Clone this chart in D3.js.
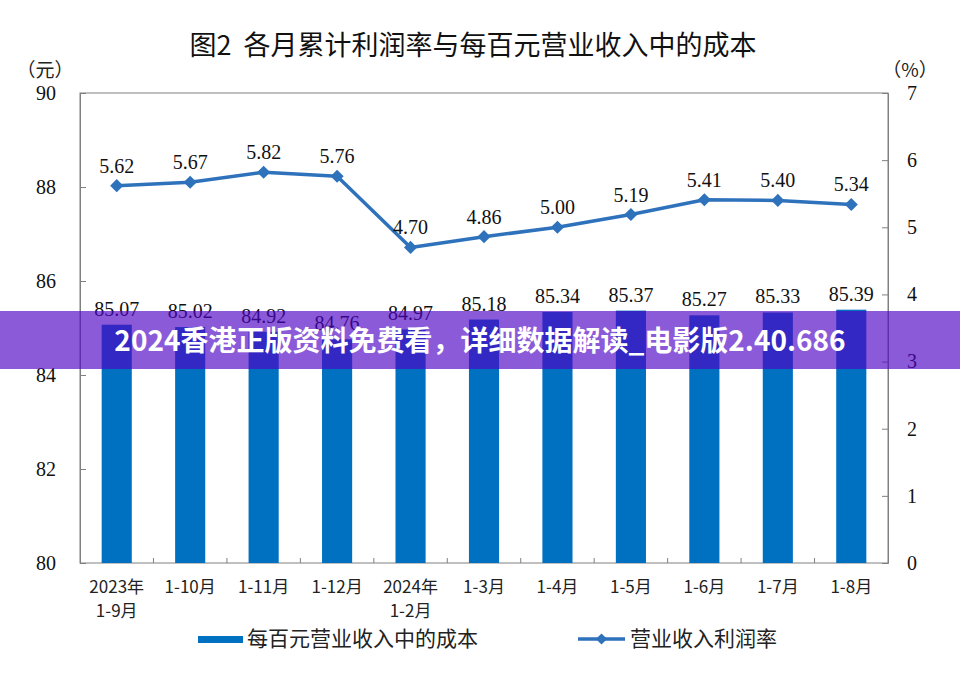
<!DOCTYPE html>
<html><head><meta charset="utf-8">
<script src="https://cdn.jsdelivr.net/npm/d3@7/dist/d3.min.js"></script>
<style>
body{margin:0;background:#fff;}
svg{display:block;}
</style></head>
<body>
<svg id="chart" width="960" height="680"></svg>
<script>
const categories = [["2023年","1-9月"],["1-10月"],["1-11月"],["1-12月"],["2024年","1-2月"],["1-3月"],["1-4月"],["1-5月"],["1-6月"],["1-7月"],["1-8月"]];
const costValues = [85.07,85.02,84.92,84.76,84.97,85.18,85.34,85.37,85.27,85.33,85.39];
const profitRate = [5.62,5.67,5.82,5.76,4.70,4.86,5.00,5.19,5.41,5.40,5.34];
const leftTicks = [80,82,84,86,88,90];
const rightTicks = [0,1,2,3,4,5,6,7];
const title = "图2  各月累计利润率与每百元营业收入中的成本";
const seriesNames = ["每百元营业收入中的成本","营业收入利润率"];
const bannerText = "2024香港正版资料免费看，详细数据解读_电影版2.40.686";

const svg = d3.select("#chart");
const M = {left:80, right:888, top:93, bottom:563};
const serif = "'Liberation Serif','Times New Roman',serif";
const cjk = "'Noto Sans CJK SC','Noto Sans',sans-serif";
const axisColor = "#808080";
const barColor = "#0070C0";
const lineColor = "#2E72BC";

const x = d3.scaleBand().domain(d3.range(categories.length)).range([M.left, M.right]).padding(0);
const yL = d3.scaleLinear().domain([80,90]).range([M.bottom, M.top]);
const yR = d3.scaleLinear().domain([0,7]).range([M.bottom, M.top]);
const barW = x.bandwidth()*0.41;

// title
svg.append("text").attr("x",473).attr("y",55).attr("text-anchor","middle")
  .attr("font-family",cjk).attr("font-size",27).attr("fill","#111").attr("xml:space","preserve").text(title);
svg.append("text").attr("x",45).attr("y",77).attr("text-anchor","middle")
  .attr("font-family",cjk).attr("font-size",19).attr("fill","#222").text("（元）");
svg.append("text").attr("x",910).attr("y",77).attr("text-anchor","middle")
  .attr("font-family",cjk).attr("font-size",19).attr("fill","#222").text("（%）");

// frame
svg.append("rect").attr("x",M.left).attr("y",M.top).attr("width",M.right-M.left).attr("height",M.bottom-M.top)
  .attr("fill","none").attr("stroke",axisColor).attr("stroke-width",1);

// bars
svg.append("g").selectAll("rect").data(costValues).join("rect")
  .attr("x",(d,i)=>x(i)+x.bandwidth()/2-barW/2)
  .attr("y",d=>yL(d)).attr("width",barW).attr("height",d=>yL(80)-yL(d))
  .attr("fill",barColor);

// axes
const gL = svg.append("g").attr("transform",`translate(${M.left},0)`)
  .call(d3.axisLeft(yL).tickValues(leftTicks).tickSize(-6).tickPadding(24).tickFormat(d3.format("d")));
const gR = svg.append("g").attr("transform",`translate(${M.right},0)`)
  .call(d3.axisRight(yR).tickValues(rightTicks).tickSize(-6).tickPadding(19).tickFormat(d3.format("d")));
[gL,gR].forEach(g=>{
  g.select(".domain").attr("stroke",axisColor);
  g.selectAll(".tick line").attr("stroke",axisColor);
  g.selectAll(".tick text").attr("font-family",serif).attr("font-size",20).attr("fill","#111");
});
// bottom ticks at band boundaries
const bounds = d3.range(1,categories.length);
svg.append("g").selectAll("line").data(bounds).join("line")
  .attr("x1",d=>x(d)).attr("x2",d=>x(d)).attr("y1",M.bottom).attr("y2",M.bottom-5)
  .attr("stroke",axisColor);

// x labels
const xl = svg.append("g").selectAll("text").data(categories).join("text")
  .attr("text-anchor","middle").attr("font-family",cjk).attr("font-size",17).attr("fill","#222");
xl.each(function(d,i){
  const t = d3.select(this);
  d.forEach((s,k)=>{
    t.append("tspan").attr("x",x(i)+x.bandwidth()/2).attr("y",593+k*24).text(s);
  });
});

// bar labels
svg.append("g").selectAll("text").data(costValues).join("text")
  .attr("x",(d,i)=>x(i)+x.bandwidth()/2).attr("y",d=>yL(d)-9)
  .attr("text-anchor","middle").attr("font-family",serif).attr("font-size",20).attr("fill","#111")
  .text(d=>d.toFixed(2));

// line
const line = d3.line().x((d,i)=>x(i)+x.bandwidth()/2).y(d=>yR(d));
svg.append("path").datum(profitRate).attr("d",line).attr("fill","none")
  .attr("stroke",lineColor).attr("stroke-width",3.5).attr("stroke-linejoin","round");
const diamond = d3.symbol().type(d3.symbolDiamond2).size(110);
svg.append("g").selectAll("path").data(profitRate).join("path")
  .attr("transform",(d,i)=>`translate(${x(i)+x.bandwidth()/2},${yR(d)})`)
  .attr("d",diamond()).attr("fill",lineColor);
svg.append("g").selectAll("text").data(profitRate).join("text")
  .attr("x",(d,i)=>x(i)+x.bandwidth()/2).attr("y",d=>yR(d)-13)
  .attr("text-anchor","middle").attr("font-family",serif).attr("font-size",20).attr("fill","#111")
  .text(d=>d.toFixed(2));

// legend
const lg = svg.append("g");
lg.append("rect").attr("x",198).attr("y",636).attr("width",45).attr("height",7).attr("fill",barColor);
lg.append("text").attr("x",247).attr("y",646).attr("font-family",cjk).attr("font-size",21).attr("fill","#222").text(seriesNames[0]);
lg.append("line").attr("x1",578).attr("x2",625).attr("y1",639).attr("y2",639).attr("stroke",lineColor).attr("stroke-width",3.5);
lg.append("path").attr("transform","translate(601.5,639)").attr("d",d3.symbol().type(d3.symbolDiamond2).size(80)()).attr("fill",lineColor);
lg.append("text").attr("x",630).attr("y",646).attr("font-family",cjk).attr("font-size",21).attr("fill","#222").text(seriesNames[1]);

// overlay banner
svg.append("rect").attr("x",0).attr("y",311).attr("width",960).attr("height",58)
  .attr("fill","rgb(78,3,197)").attr("fill-opacity",0.655);
svg.append("text").attr("x",480).attr("y",341).attr("dy","0.35em").attr("text-anchor","middle")
  .attr("font-family",cjk).attr("font-weight","bold").attr("font-size",28).attr("fill","#fff").text(bannerText);
</script>
</body></html>
